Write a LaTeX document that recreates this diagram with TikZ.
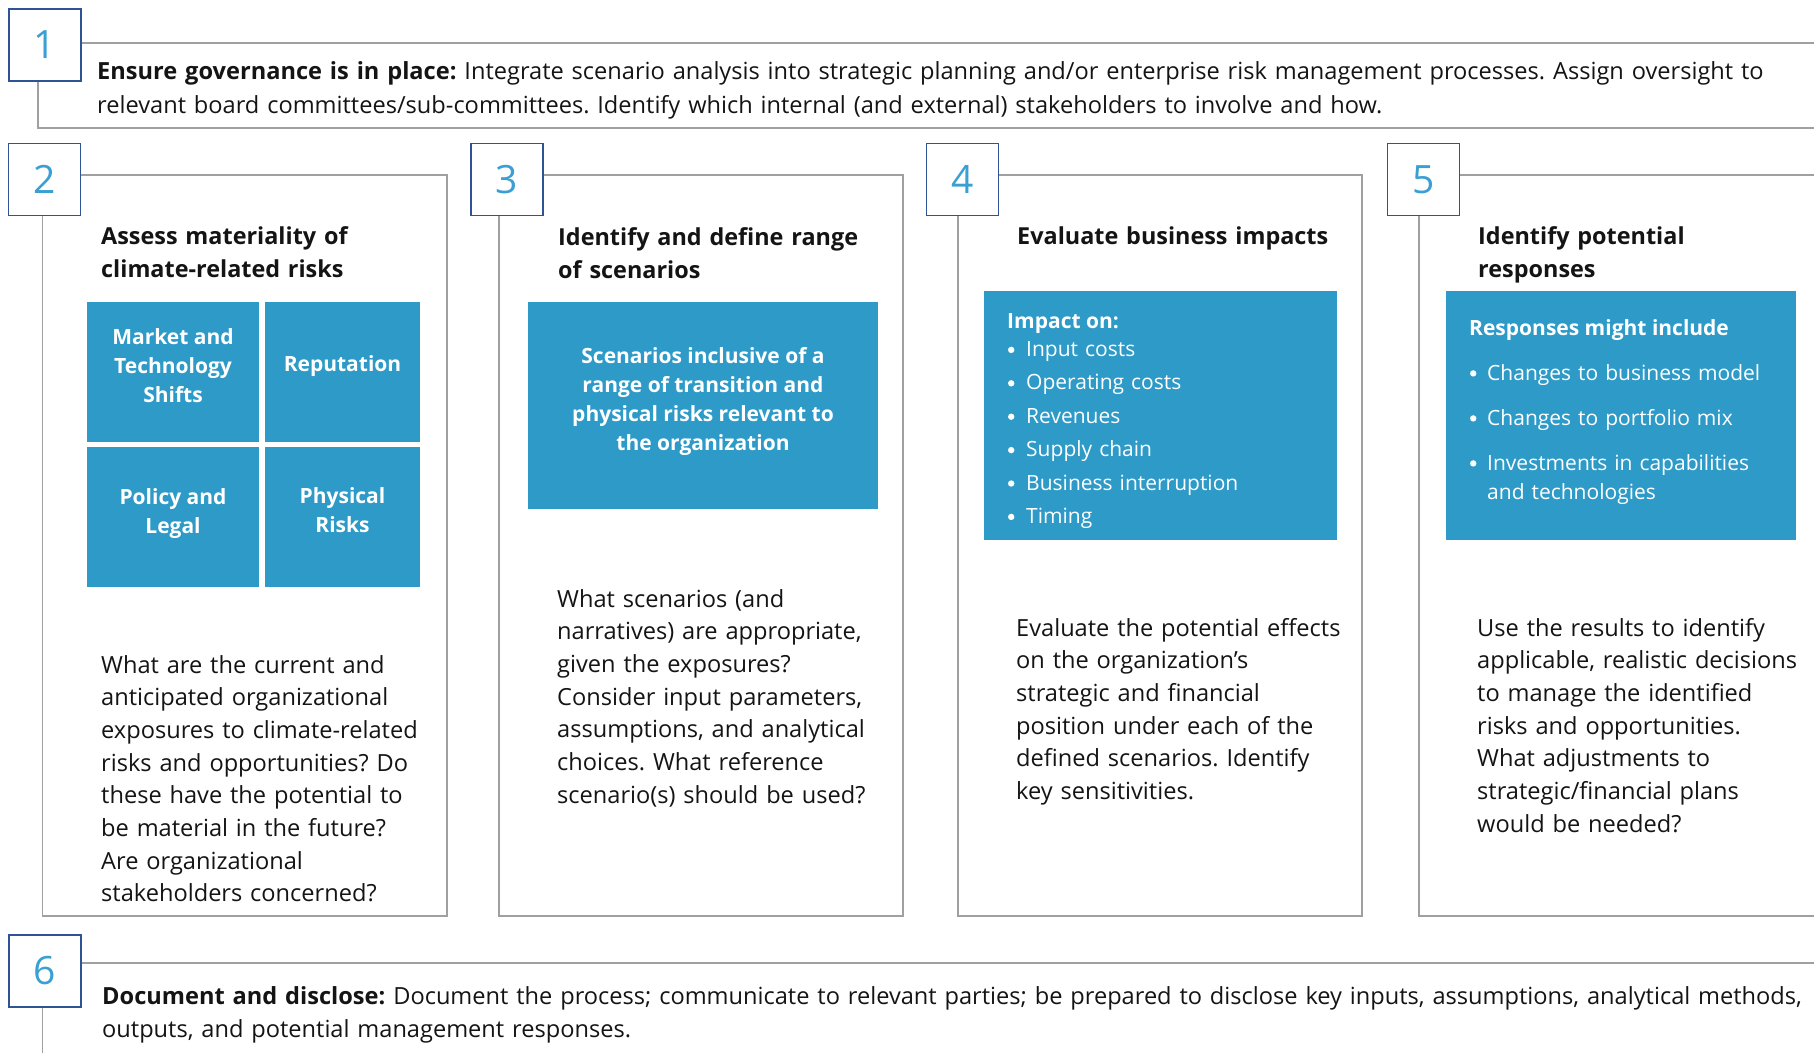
\documentclass[tikz,border=0pt]{standalone}
\usepackage{fontspec}
\setmainfont{Open Sans}
\definecolor{tileblue}{RGB}{45,154,200}
\definecolor{numblue}{RGB}{58,159,211}
\definecolor{boxblue}{RGB}{47,84,150}
\definecolor{framegray}{RGB}{160,160,160}
\definecolor{ink}{RGB}{20,20,20}
\newcommand{\bdot}[1]{\makebox[#1][l]{\tikz[baseline=0pt]{\path (0pt,0pt); \fill[white] (4pt,6.6pt) circle (3.2pt);}}}
\frenchspacing
\begin{document}
\begin{tikzpicture}[x=1pt,y=-1pt,
  numbox/.style={draw=boxblue, line width=1.5pt, fill=white, minimum width=72pt, minimum height=72pt, inner sep=0pt, text=numblue, font=\fontsize{39}{39}\selectfont},
  frame/.style={draw=framegray, line width=1.5pt},
  tile/.style={fill=tileblue, draw=none, inner sep=0pt},
  tiletext/.style={text=white, font=\bfseries\fontsize{21}{29}\selectfont, align=center, inner sep=0pt},
  body/.style={anchor=base west, inner sep=0pt, text width=#1, align=left, text=ink, font=\fontsize{23.6}{32.7}\selectfont},
  body/.default=420pt,
  ttl/.style={anchor=base west, inner sep=0pt, text width=380pt, align=left, text=ink, font=\bfseries\fontsize{23.4}{33}\selectfont},
  listtext/.style={anchor=base west, inner sep=0pt, text width=330pt, align=left, text=white, font=\fontsize{21}{#1}\selectfont},
  listhead/.style={anchor=base west, inner sep=0pt, text=white, font=\bfseries\fontsize{21}{29}\selectfont}
]
\useasboundingbox (0,0) rectangle (1814,1053);

% ---------- frames ----------
% row 1
\draw[frame] (81,43) -- (1814,43);
\draw[frame] (38,81) -- (38,128) -- (1814,128);
% column 2
\draw[frame] (42.5,216) -- (42.5,916) -- (447,916) -- (447,175) -- (81,175);
% column 3
\draw[frame] (499,216) -- (499,916) -- (903,916) -- (903,175) -- (543,175);
% column 4
\draw[frame] (958,216) -- (958,916) -- (1362,916) -- (1362,175) -- (999,175);
% column 5
\draw[frame] (1419,216) -- (1419,916) -- (1814,916);
\draw[frame] (1460,175) -- (1814,175);
% row 6
\draw[frame] (81,963) -- (1814,963);
\draw[frame] (42.5,1007) -- (42.5,1053);

% ---------- number boxes ----------
\node[numbox] (n1) at (45,45) {1};
\node[numbox] (n2) at (44.5,179.5) {2};
\node[numbox] (n3) at (507,179.5) {3};
\node[numbox] (n4) at (962.5,179.5) {4};
\node[numbox] (n5) at (1423.5,179.5) {5};
\node[numbox] (n6) at (45,971) {6};

% ---------- row 1 ----------
\node[body=1760pt, font=\fontsize{23.6}{33.7}\selectfont] (r1) at (97,79.5)
  {\textbf{Ensure governance is in place:} Integrate scenario analysis into strategic planning and/or enterprise risk management processes. Assign oversight to\\
   relevant board committees/sub-committees. Identify which internal (and external) stakeholders to involve and how.};

% ---------- column 2 ----------
\node[ttl] (t2) at (101,244) {Assess materiality of\\climate-related risks};
\node[tile, minimum width=172pt, minimum height=140pt] (a1) at (173,372) {};
\node[tile, minimum width=155pt, minimum height=140pt] (a2) at (342.5,372) {};
\node[tile, minimum width=172pt, minimum height=140pt] (a3) at (173,517) {};
\node[tile, minimum width=155pt, minimum height=140pt] (a4) at (342.5,517) {};
\node[tiletext] (a1t) at (173,366) {Market and\\Technology\\Shifts};
\node[tiletext] (a2t) at (342.5,366) {Reputation};
\node[tiletext] (a3t) at (173,513.5) {Policy and\\Legal};
\node[tiletext] (a4t) at (342.5,510) {Physical\\Risks};
\node[body] (b2) at (101,673)
  {What are the current and\\
   anticipated organizational\\
   exposures to climate-related\\
   risks and opportunities? Do\\
   these have the potential to\\
   be material in the future?\\
   Are organizational\\
   stakeholders concerned?};

% ---------- column 3 ----------
\node[ttl] (t3) at (558,245) {Identify and define range\\of scenarios};
\node[tile, minimum width=350pt, minimum height=207pt] (s3) at (703,405.5) {};
\node[tiletext] (s3t) at (703,401)
  {Scenarios inclusive of a\\range of transition and\\physical risks relevant to\\the organization};
\node[body] (b3) at (557,607)
  {What scenarios (and\\
   narratives) are appropriate,\\
   given the exposures?\\
   Consider input parameters,\\
   assumptions, and analytical\\
   choices. What reference\\
   scenario(s) should be used?};

% ---------- column 4 ----------
\node[ttl] (t4) at (1017,244) {Evaluate business impacts};
\node[tile, minimum width=353pt, minimum height=249pt] (s4) at (1160.5,415.5) {};
\node[listhead] (h4) at (1007,328) {Impact on:};
\node[listtext=33.4pt] (l4) at (1007,356.5)
  {\bdot{19pt}Input costs\\
   \bdot{19pt}Operating costs\\
   \bdot{19pt}Revenues\\
   \bdot{19pt}Supply chain\\
   \bdot{19pt}Business interruption\\
   \bdot{19pt}Timing};
\node[body] (b4) at (1016,636)
  {Evaluate the potential effects\\
   on the organization’s\\
   strategic and financial\\
   position under each of the\\
   defined scenarios. Identify\\
   key sensitivities.};

% ---------- column 5 ----------
\node[ttl] (t5) at (1478,244) {Identify potential\\responses};
\node[tile, minimum width=350pt, minimum height=249pt] (s5) at (1621,415.5) {};
\node[listhead] (h5) at (1469,335) {Responses might include};
\node[listtext=29pt] (l5) at (1469,380)
  {\bdot{18pt}Changes to business model\\[16pt]
   \bdot{18pt}Changes to portfolio mix\\[16pt]
   \bdot{18pt}Investments in capabilities\\
   \hspace*{18pt}and technologies};
\node[body] (b5) at (1477,636)
  {Use the results to identify\\
   applicable, realistic decisions\\
   to manage the identified\\
   risks and opportunities.\\
   What adjustments to\\
   strategic/financial plans\\
   would be needed?};

% ---------- row 6 ----------
\node[body=1760pt, font=\fontsize{23.6}{33}\selectfont] (r6) at (102,1004)
  {\textbf{Document and disclose:} Document the process; communicate to relevant parties; be prepared to disclose key inputs, assumptions, analytical methods,\\
   outputs, and potential management responses.};
\end{tikzpicture}
\end{document}
